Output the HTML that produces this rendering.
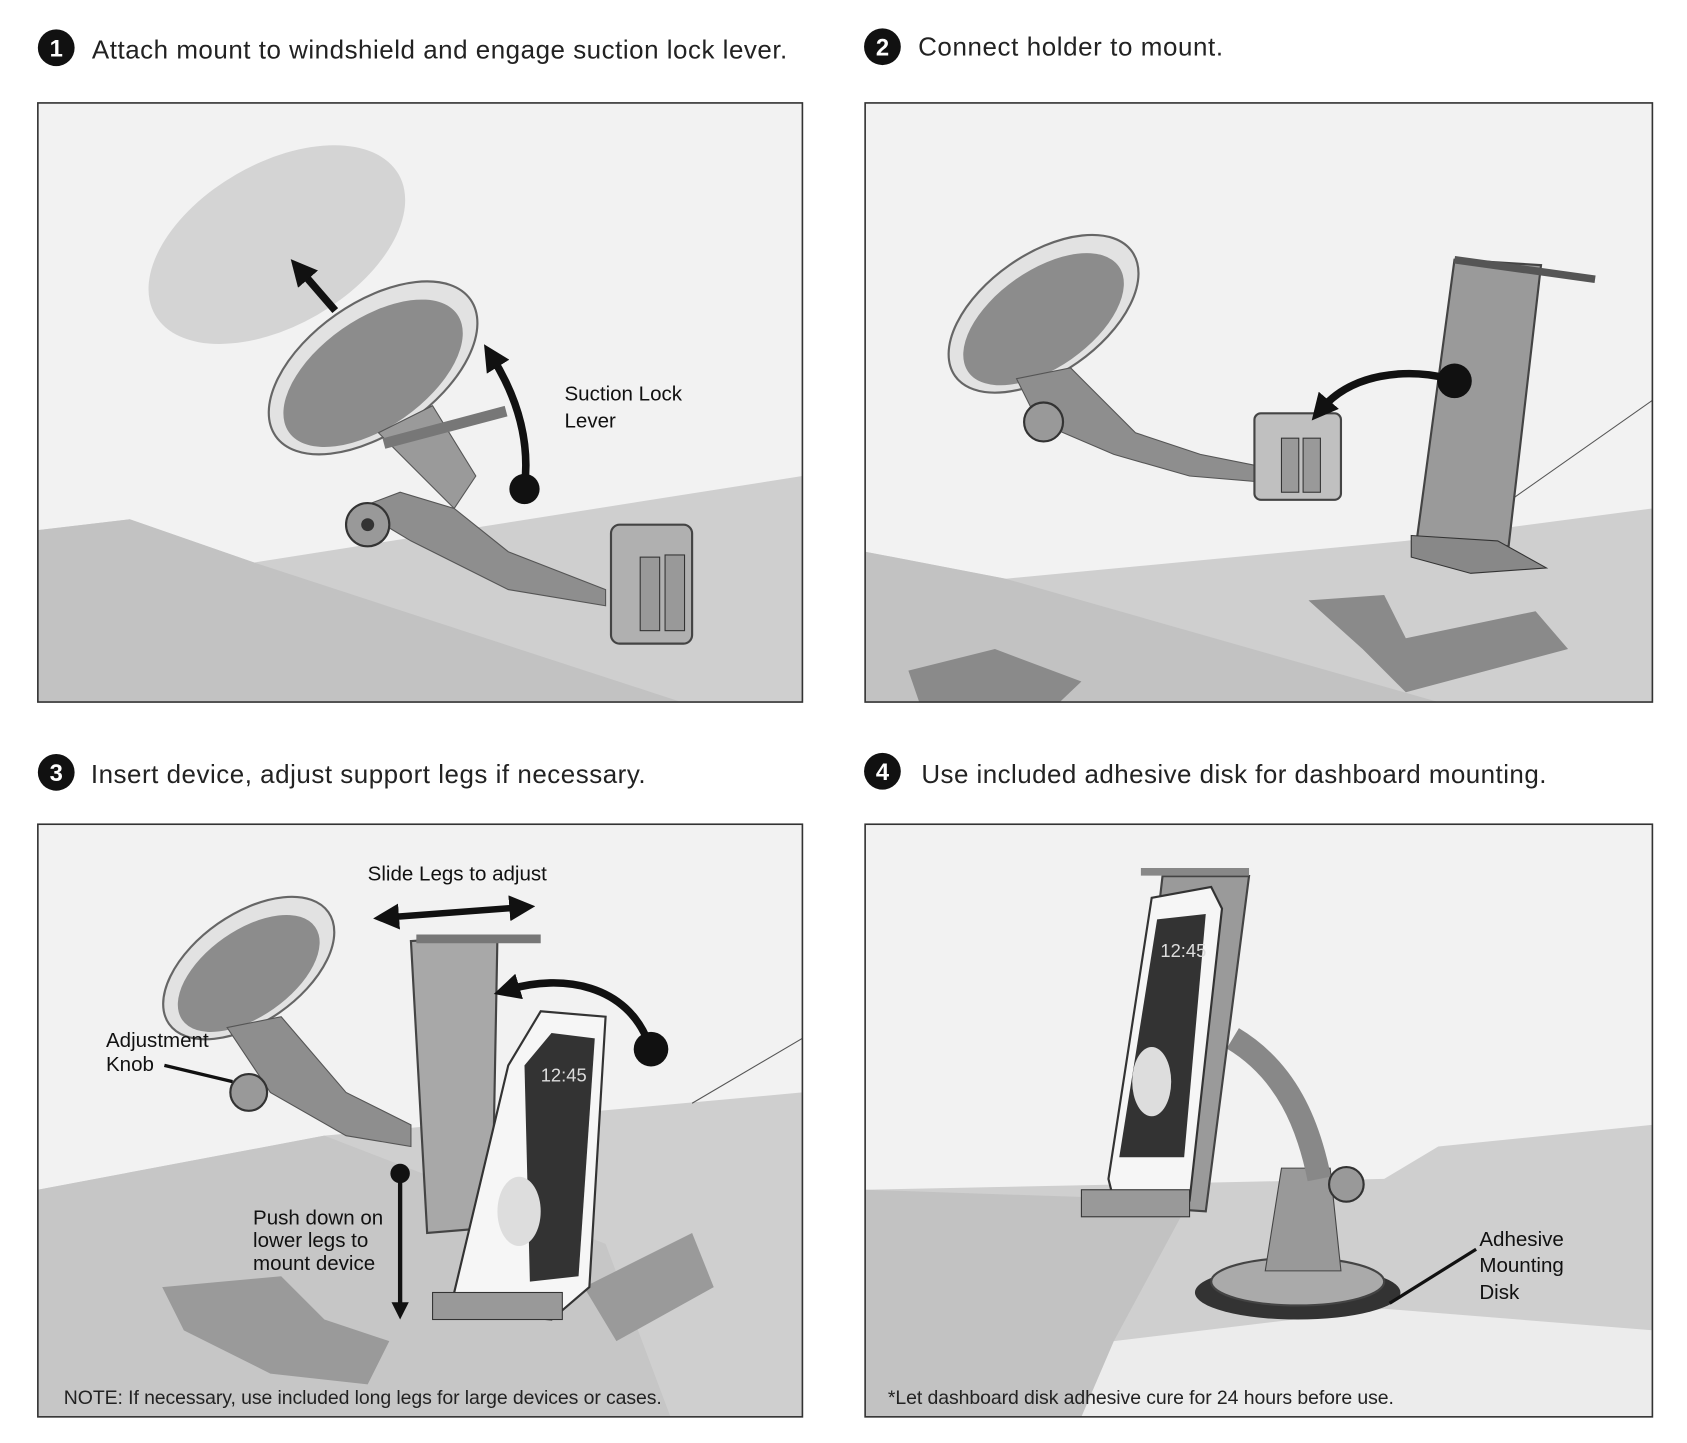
<!DOCTYPE html>
<html><head><meta charset="utf-8"><style>
html,body{margin:0;padding:0;background:#fff;}
svg{display:block}
text{font-family:"Liberation Sans",sans-serif;}
</style></head><body>
<svg width="1687" height="1443" viewBox="0 0 1560 1334" xmlns="http://www.w3.org/2000/svg">
<defs>
<marker id="ah" markerWidth="3.5" markerHeight="3.5" refX="1.5" refY="1.75" orient="auto" markerUnits="strokeWidth"><path d="M0,0 L3.5,1.75 L0,3.5 z" fill="#111"/></marker>
<marker id="ah2" markerWidth="4" markerHeight="4" refX="1.5" refY="2" orient="auto-start-reverse" markerUnits="strokeWidth"><path d="M0,0 L4,2 L0,4 z" fill="#111"/></marker>
<clipPath id="c1"><rect x="35" y="95" width="707" height="554"/></clipPath>
<clipPath id="c2"><rect x="800" y="95" width="728" height="554"/></clipPath>
<clipPath id="c3"><rect x="35" y="762" width="707" height="548"/></clipPath>
<clipPath id="c4"><rect x="800" y="762" width="728" height="548"/></clipPath>
</defs>
<rect width="1560" height="1334" fill="#fff"/>

<circle cx="52" cy="44" r="17" fill="#111"/><text x="52" y="52" font-size="22" font-weight="bold" fill="#fff" text-anchor="middle">1</text>
<text x="85" y="54" font-size="24" fill="#222" textLength="643">Attach mount to windshield and engage suction lock lever.</text>
<circle cx="816" cy="43" r="17" fill="#111"/><text x="816" y="51" font-size="22" font-weight="bold" fill="#fff" text-anchor="middle">2</text>
<text x="849" y="51" font-size="24" fill="#222" textLength="282">Connect holder to mount.</text>
<circle cx="52" cy="714" r="17" fill="#111"/><text x="52" y="722" font-size="22" font-weight="bold" fill="#fff" text-anchor="middle">3</text>
<text x="84" y="724" font-size="24" fill="#222" textLength="513">Insert device, adjust support legs if necessary.</text>
<circle cx="816" cy="713" r="17" fill="#111"/><text x="816" y="721" font-size="22" font-weight="bold" fill="#fff" text-anchor="middle">4</text>
<text x="852" y="724" font-size="24" fill="#222" textLength="578">Use included adhesive disk for dashboard mounting.</text>

<!-- panel 1 -->
<g clip-path="url(#c1)">
<rect x="35" y="95" width="707" height="554" fill="#f2f2f2"/>
<ellipse cx="256" cy="226" rx="130" ry="75" transform="rotate(-30 256 226)" fill="#d4d4d4"/>
<polygon points="35,490 120,480 235,520 742,440 742,649 35,649" fill="#cfcfcf"/>
<polygon points="35,490 120,480 235,520 630,649 35,649" fill="#c2c2c2"/>
<ellipse cx="345" cy="340" rx="110" ry="60" transform="rotate(-35 345 340)" fill="#e2e2e2" stroke="#666" stroke-width="2"/>
<ellipse cx="345" cy="345" rx="95" ry="50" transform="rotate(-35 345 345)" fill="#8c8c8c"/>
<polygon points="350,400 400,375 440,440 420,470 380,430" fill="#9a9a9a" stroke="#555"/>
<line x1="355" y1="410" x2="468" y2="380" stroke="#777" stroke-width="10"/>
<polygon points="330,470 370,455 420,470 470,510 560,545 560,560 470,545 380,500" fill="#8e8e8e" stroke="#555"/>
<circle cx="340" cy="485" r="20" fill="#999" stroke="#333" stroke-width="2"/><circle cx="340" cy="485" r="6" fill="#333"/>
<rect x="565" y="485" width="75" height="110" rx="8" fill="#b0b0b0" stroke="#444" stroke-width="2"/>
<rect x="592" y="515" width="18" height="68" fill="#999" stroke="#333"/><rect x="615" y="513" width="18" height="70" fill="#999" stroke="#333"/>
<path d="M485,450 C490,410 480,370 455,330" stroke="#111" stroke-width="7" fill="none" marker-end="url(#ah)"/>
<circle cx="485" cy="452" r="14" fill="#111"/>
<line x1="310" y1="287" x2="278" y2="250" stroke="#111" stroke-width="7" marker-end="url(#ah)"/>
</g>
<rect x="35" y="95" width="707" height="554" fill="none" stroke="#333" stroke-width="1.5"/>
<text x="522" y="370" font-size="19" fill="#111">Suction Lock</text>
<text x="522" y="395" font-size="19" fill="#111">Lever</text>

<!-- panel 2 -->
<g clip-path="url(#c2)">
<rect x="800" y="95" width="728" height="554" fill="#f2f2f2"/>
<polygon points="800,510 930,535 1300,500 1528,470 1528,649 800,649" fill="#cfcfcf"/>
<polygon points="800,510 930,535 1330,649 800,649" fill="#c2c2c2"/>
<line x1="1400" y1="460" x2="1528" y2="370" stroke="#555"/>
<polygon points="1210,555 1280,550 1300,590 1420,565 1450,600 1300,640 1260,600" fill="#8a8a8a"/>
<polygon points="840,620 920,600 1000,630 980,649 850,649" fill="#8a8a8a"/>
<ellipse cx="965" cy="290" rx="100" ry="55" transform="rotate(-35 965 290)" fill="#e2e2e2" stroke="#666" stroke-width="2"/>
<ellipse cx="965" cy="295" rx="85" ry="45" transform="rotate(-35 965 295)" fill="#8c8c8c"/>
<polygon points="940,350 990,340 1050,400 1110,420 1160,430 1160,445 1100,440 1030,420 960,390" fill="#8e8e8e" stroke="#555"/>
<circle cx="965" cy="390" r="18" fill="#999" stroke="#333" stroke-width="2"/>
<rect x="1160" y="382" width="80" height="80" rx="6" fill="#c0c0c0" stroke="#444" stroke-width="2"/>
<rect x="1185" y="405" width="16" height="50" fill="#999" stroke="#333"/><rect x="1205" y="405" width="16" height="50" fill="#999" stroke="#333"/>
<polygon points="1345,240 1425,245 1395,505 1310,500" fill="#9a9a9a" stroke="#444" stroke-width="2"/>
<line x1="1345" y1="240" x2="1475" y2="258" stroke="#555" stroke-width="7"/>
<polygon points="1305,495 1385,500 1430,525 1360,530 1305,515" fill="#888" stroke="#333"/>
<path d="M1340,350 C1300,340 1250,345 1222,378" stroke="#111" stroke-width="7" fill="none" marker-end="url(#ah)"/>
<circle cx="1345" cy="352" r="16" fill="#111"/>
</g>
<rect x="800" y="95" width="728" height="554" fill="none" stroke="#333" stroke-width="1.5"/>

<!-- panel 3 -->
<g clip-path="url(#c3)">
<rect x="35" y="762" width="707" height="548" fill="#f2f2f2"/>
<polygon points="35,1100 300,1050 742,1010 742,1310 35,1310" fill="#cfcfcf"/>
<polygon points="35,1100 300,1050 560,1150 620,1310 35,1310" fill="#c6c6c6"/>
<line x1="640" y1="1020" x2="742" y2="960" stroke="#555"/>
<polygon points="150,1190 260,1180 300,1220 360,1240 340,1280 250,1270 170,1230" fill="#9a9a9a"/>
<polygon points="540,1190 640,1140 660,1190 570,1240" fill="#9a9a9a"/>
<ellipse cx="230" cy="895" rx="90" ry="50" transform="rotate(-35 230 895)" fill="#e2e2e2" stroke="#666" stroke-width="2"/>
<ellipse cx="230" cy="900" rx="75" ry="40" transform="rotate(-35 230 900)" fill="#8c8c8c"/>
<polygon points="210,950 260,940 320,1010 380,1040 380,1060 320,1050 250,1010" fill="#8e8e8e" stroke="#555"/>
<circle cx="230" cy="1010" r="17" fill="#999" stroke="#333" stroke-width="2"/>
<polygon points="380,870 460,865 455,1135 395,1140" fill="#a8a8a8" stroke="#444" stroke-width="2"/>
<line x1="385" y1="868" x2="500" y2="868" stroke="#777" stroke-width="8"/>
<polygon points="470,985 500,935 560,940 545,1190 510,1220 455,1215 420,1195" fill="#f6f6f6" stroke="#333" stroke-width="2"/>
<polygon points="485,985 510,955 550,960 535,1180 490,1185" fill="#333"/>
<ellipse cx="480" cy="1120" rx="20" ry="32" fill="#ddd"/>
<text x="500" y="1000" font-size="17" fill="#ddd">12:45</text>
<rect x="400" y="1195" width="120" height="25" fill="#999" stroke="#333"/>
<line x1="360" y1="848" x2="480" y2="839" stroke="#111" stroke-width="6" marker-end="url(#ah2)" marker-start="url(#ah2)"/>
<path d="M600,965 C580,910 520,900 470,915" stroke="#111" stroke-width="7" fill="none" marker-end="url(#ah)"/>
<circle cx="602" cy="970" r="16" fill="#111"/>
<line x1="370" y1="1088" x2="370" y2="1210" stroke="#111" stroke-width="4" marker-end="url(#ah2)"/>
<circle cx="370" cy="1085" r="9" fill="#111"/>
<line x1="152" y1="985" x2="215" y2="1000" stroke="#111" stroke-width="3"/>
</g>
<rect x="35" y="762" width="707" height="548" fill="none" stroke="#333" stroke-width="1.5"/>
<text x="340" y="814" font-size="19" fill="#111">Slide Legs to adjust</text>
<text x="98" y="968" font-size="19" fill="#111">Adjustment</text>
<text x="98" y="990" font-size="19" fill="#111">Knob</text>
<text x="234" y="1132" font-size="19" fill="#111">Push down on</text>
<text x="234" y="1153" font-size="19" fill="#111">lower legs to</text>
<text x="234" y="1174" font-size="19" fill="#111">mount device</text>
<text x="59" y="1298" font-size="18" fill="#222" textLength="553">NOTE: If necessary, use included long legs for large devices or cases.</text>

<!-- panel 4 -->
<g clip-path="url(#c4)">
<rect x="800" y="762" width="728" height="548" fill="#f2f2f2"/>
<polygon points="800,1100 1280,1090 1330,1060 1528,1040 1528,1310 800,1310" fill="#cfcfcf"/>
<polygon points="800,1100 1100,1110 1030,1240 1000,1310 800,1310" fill="#c2c2c2"/>
<polygon points="1030,1240 1280,1210 1528,1230 1528,1310 1000,1310" fill="#ececec"/>
<ellipse cx="1200" cy="1195" rx="95" ry="25" fill="#333"/>
<ellipse cx="1200" cy="1185" rx="80" ry="22" fill="#aaa" stroke="#444" stroke-width="2"/>
<polygon points="1185,1080 1230,1080 1240,1175 1170,1175" fill="#999" stroke="#444"/>
<path d="M1140,960 C1190,990 1210,1040 1220,1090" stroke="#888" stroke-width="22" fill="none"/>
<circle cx="1245" cy="1095" r="16" fill="#999" stroke="#333" stroke-width="2"/>
<polygon points="1075,810 1155,810 1115,1120 1040,1115" fill="#9a9a9a" stroke="#444" stroke-width="2"/>
<polygon points="1065,830 1120,820 1130,840 1100,1110 1030,1110 1025,1090" fill="#f6f6f6" stroke="#333" stroke-width="2"/>
<polygon points="1070,850 1115,845 1095,1070 1035,1070" fill="#333"/>
<ellipse cx="1065" cy="1000" rx="18" ry="32" fill="#ddd"/>
<text x="1073" y="885" font-size="17" fill="#ddd">12:45</text>
<line x1="1055" y1="806" x2="1155" y2="806" stroke="#888" stroke-width="7"/>
<rect x="1000" y="1100" width="100" height="25" fill="#999" stroke="#333"/>
<line x1="1365" y1="1155" x2="1285" y2="1205" stroke="#111" stroke-width="3"/>
</g>
<rect x="800" y="762" width="728" height="548" fill="none" stroke="#333" stroke-width="1.5"/>
<text x="1368" y="1152" font-size="19" fill="#111">Adhesive</text>
<text x="1368" y="1176" font-size="19" fill="#111">Mounting</text>
<text x="1368" y="1201" font-size="19" fill="#111">Disk</text>
<text x="821" y="1298" font-size="18" fill="#222" textLength="468">*Let dashboard disk adhesive cure for 24 hours before use.</text>
</svg>
</body></html>
